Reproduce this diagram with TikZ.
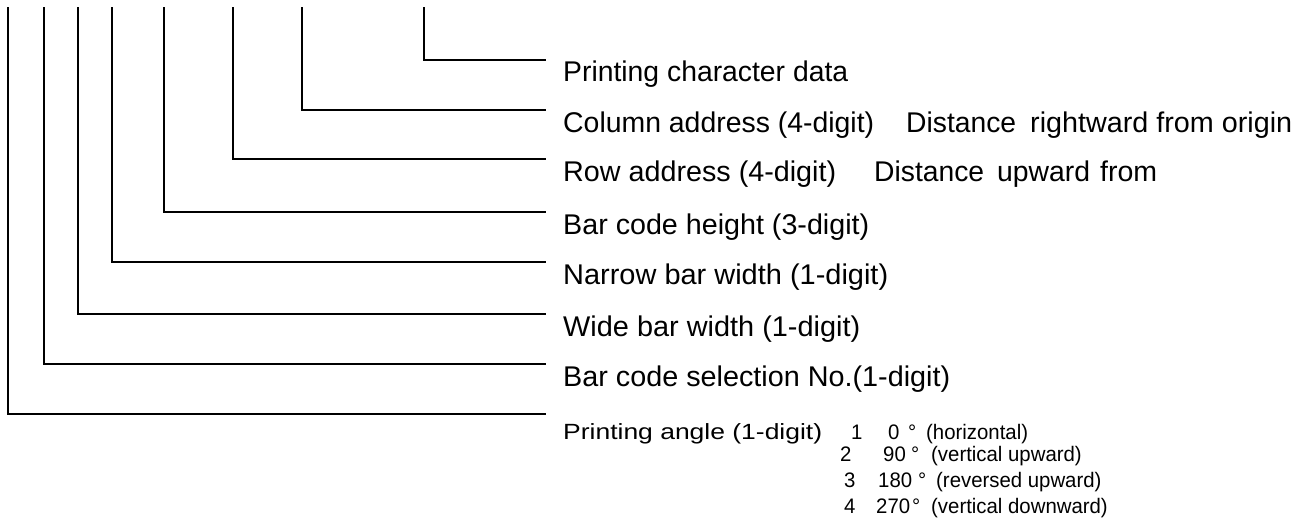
\documentclass[tikz,border=0pt]{standalone}
\usepackage{fontspec}
\usepackage{graphicx}
\newfontfamily\labfont{Liberation Sans}
\newfontfamily\angfont{Liberation Sans}[FakeStretch=0.97]
\newcommand{\fitw}[2]{\resizebox{#1pt}{\height}{#2}}
\begin{document}
\begin{tikzpicture}[x=1pt,y=-1pt,
  lead/.style={line width=1.2pt, line cap=rect},
  lab/.style={anchor=base west, inner sep=0pt, font=\labfont\fontsize{28.5}{33}\selectfont},
  anglabel/.style={anchor=base west, inner sep=0pt, font=\labfont\fontsize{22}{26}\selectfont},
  ang/.style={anchor=base west, inner sep=0pt, font=\angfont\fontsize{21}{25}\selectfont}]
\useasboundingbox (0,0) rectangle (1308,524);
% top ends and right ends of the leaders
\coordinate (t1) at (424,7.5);  \coordinate (e1) at (545,60);
\coordinate (t2) at (302,7.5);  \coordinate (e2) at (545,110);
\coordinate (t3) at (233,7.5);  \coordinate (e3) at (545,159);
\coordinate (t4) at (164,7.5);  \coordinate (e4) at (545,212);
\coordinate (t5) at (112,7.5);  \coordinate (e5) at (545,262);
\coordinate (t6) at (78,7.5);   \coordinate (e6) at (545,314);
\coordinate (t7) at (44,7.5);   \coordinate (e7) at (545,364);
\coordinate (t8) at (8,7.5);    \coordinate (e8) at (545,414);
\foreach \i in {1,...,8} \draw[lead] (t\i) |- (e\i);
% labels
\node[lab] (l1) at (563,82) {\fitw{285}{Printing character data}};
\node[lab] (l2) at (563,132) {\fitw{311}{Column address (4-digit)}};
\node[lab] (l2b) at (906,132) {\fitw{110}{Distance}};
\node[lab] (l2c) at (1030,132) {\fitw{262}{rightward from origin}};
\node[lab] (l3) at (563,181) {\fitw{273}{Row address (4-digit)}};
\node[lab] (l3b) at (874,181) {\fitw{110}{Distance}};
\node[lab] (l3c) at (997,181) {\fitw{93}{upward}};
\node[lab] (l3d) at (1100,181) {\fitw{57}{from}};
\node[lab] (l4) at (563,234) {\fitw{306}{Bar code height (3-digit)}};
\node[lab] (l5) at (563,284) {\fitw{325}{Narrow bar width (1-digit)}};
\node[lab] (l6) at (563,336) {\fitw{297}{Wide bar width (1-digit)}};
\node[lab] (l7) at (563,386) {\fitw{387}{Bar code selection No.(1-digit)}};
% printing angle block
\node[anglabel] (l8) at (563,439) {\fitw{259}{Printing angle (1-digit)}};
\node[ang] (n1) at (851,439) {1};
\node[ang] (v1) at (888,439) {0};
\node[ang] (d1) at (908,439) {°};
\node[ang] (s1) at (926,439) {(horizontal)};
\node[ang] (n2) at (840,461) {2};
\node[ang] (v2) at (883,461) {90};
\node[ang] (d2) at (911,461) {°};
\node[ang] (s2) at (931,461) {(vertical upward)};
\node[ang] (n3) at (844,487) {3};
\node[ang] (v3) at (878,487) {180};
\node[ang] (d3) at (918,487) {°};
\node[ang] (s3) at (936,487) {(reversed upward)};
\node[ang] (n4) at (844,513) {4};
\node[ang] (v4) at (876,513) {270};
\node[ang] (d4) at (912,513) {°};
\node[ang] (s4) at (931,513) {(vertical downward)};
\end{tikzpicture}
\end{document}
